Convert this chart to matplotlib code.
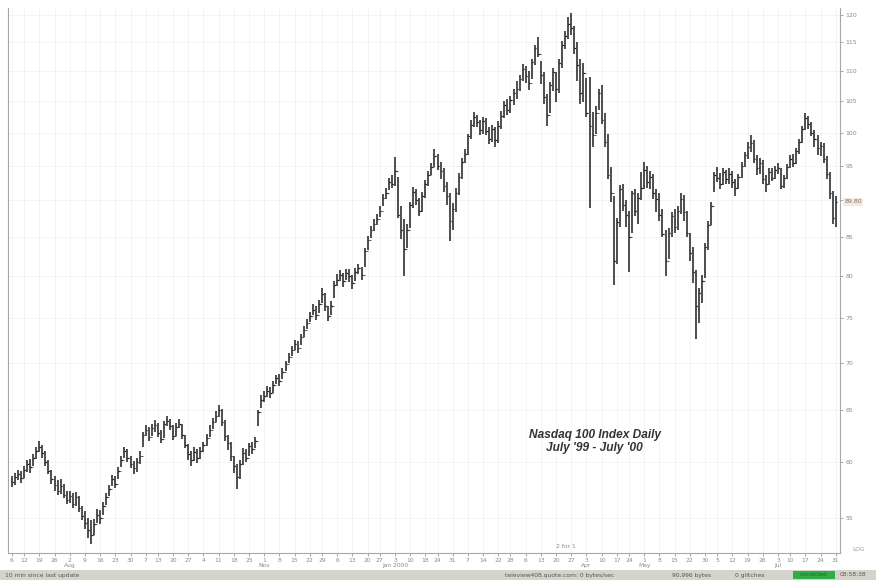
import numpy as np
import pandas as pd
import matplotlib
matplotlib.use("Agg")
import matplotlib.pyplot as plt
from matplotlib.transforms import blended_transform_factory

# ---------------- data (QQQ-scale, split adjusted) ----------------
holidays = ["1999-07-05", "1999-09-06", "1999-11-25", "1999-12-24", "2000-01-17",
            "2000-02-21", "2000-04-21", "2000-05-29", "2000-07-04"]
start_date = "1999-07-06"
end_date = "2000-07-31"

close = [
    # Jul 99
    58.2, 58.6, 58.9, 58.5, 59.3, 59.8, 59.5, 60.4, 61.0, 61.4, 60.8, 60.0, 59.2, 58.4, 57.9, 57.4, 57.8, 57.0, 56.6,
    # Aug
    56.9, 56.2, 56.8, 55.9, 55.2, 54.6, 54.0, 53.6, 54.5, 55.3, 55.0, 56.0, 56.8, 57.5, 58.4, 58.0, 59.2, 60.2, 61.0, 60.4, 59.8, 59.4,
    # Sep
    60.0, 60.6, 62.6, 63.0, 62.4, 63.2, 63.5, 62.8, 62.2, 63.6, 63.9, 63.4, 62.5, 63.3, 63.6, 62.6, 61.6, 60.7, 60.2, 60.9, 60.4,
    # Oct
    61.0, 61.6, 62.3, 63.0, 63.8, 64.4, 65.0, 63.8, 62.5, 61.8, 60.6, 59.6, 58.6, 59.8, 60.8, 60.4, 61.5, 61.2, 62.0, 64.8, 66.0,
    # Nov
    66.5, 67.0, 66.8, 67.6, 68.3, 68.0, 69.0, 69.8, 70.6, 71.4, 72.0, 71.6, 72.8, 73.6, 74.4, 75.2, 76.0, 75.4, 76.6, 77.8, 76.4,
    # Dec
    75.2, 76.4, 79.0, 79.6, 80.2, 79.4, 80.4, 80.0, 79.2, 80.6, 81.0, 80.2, 83.2, 84.6, 86.0, 86.8, 87.4, 88.6, 90.4, 91.0, 92.6, 92.4,
    # Jan 00
    94.2, 88.0, 86.0, 83.5, 86.0, 89.4, 91.2, 90.0, 88.6, 90.6, 92.4, 93.6, 94.8, 96.4, 95.0, 94.2, 92.0, 90.6, 87.2, 88.8,
    # Feb
    91.0, 93.4, 95.6, 96.8, 99.5, 101.2, 102.4, 101.6, 100.4, 101.8, 100.2, 99.0, 100.6, 98.8, 101.0, 102.6, 104.4, 103.6, 105.2, 106.4,
    # Mar
    107.0, 108.6, 110.4, 109.2, 108.0, 111.5, 114.0, 113.0, 109.4, 105.6, 102.8, 107.6, 109.8, 107.0, 111.4, 114.6, 116.2, 118.4, 117.6, 114.0, 111.0, 106.4, 109.6,
    # Apr
    103.0, 101.0, 99.6, 103.0, 106.4, 102.0, 98.6, 93.6, 91.0, 82.0, 87.0, 91.6, 89.4, 88.0, 85.0, 91.0, 88.6, 90.4, 91.8,
    # May
    94.4, 92.6, 93.4, 91.0, 90.2, 88.0, 85.4, 82.0, 85.6, 87.8, 86.4, 88.6, 90.2, 88.4, 85.6, 83.0, 80.6, 76.4, 78.0, 79.4, 83.8, 86.6,
    # Jun
    89.2, 93.6, 93.2, 92.4, 94.0, 93.0, 93.8, 92.6, 91.8, 93.4, 95.0, 96.6, 97.8, 98.4, 96.0, 94.6, 95.4, 93.0, 92.4, 94.0, 93.2, 94.4,
    # Jul
    94.6, 92.0, 93.2, 94.8, 96.0, 95.4, 97.2, 98.6, 100.6, 102.2, 101.4, 100.0, 99.0, 97.6, 98.0, 96.0, 93.8, 91.0, 87.6, 89.8,
]
high = [
    58.7, 59.0, 59.3, 59.2, 59.6, 60.2, 60.3, 60.7, 61.4, 62.0, 61.6, 61.0, 60.2, 59.3, 58.7, 58.3, 58.4, 58.0, 57.4,
    57.4, 57.2, 57.3, 56.9, 56.0, 55.6, 55.0, 54.8, 54.9, 55.8, 55.7, 56.4, 57.2, 57.9, 58.8, 58.7, 59.5, 60.6, 61.4, 61.2, 60.6, 60.1,
    60.4, 61.0, 62.9, 63.5, 63.3, 63.6, 64.0, 63.7, 63.0, 63.9, 64.4, 64.1, 63.5, 63.7, 64.1, 63.6, 62.6, 61.7, 61.0, 61.4, 61.2,
    61.4, 61.9, 62.7, 63.5, 64.2, 64.9, 65.5, 65.1, 64.0, 62.6, 61.9, 60.6, 59.8, 60.2, 61.3, 61.2, 61.8, 61.9, 62.4, 65.0, 66.6,
    67.0, 67.5, 67.4, 68.0, 68.7, 68.8, 69.4, 70.2, 71.0, 71.8, 72.5, 72.4, 73.2, 74.1, 74.9, 75.7, 76.6, 76.4, 77.1, 78.6, 78.0,
    76.4, 77.0, 79.4, 80.3, 80.8, 80.4, 80.9, 80.9, 80.2, 81.0, 81.6, 81.2, 83.6, 85.2, 86.5, 87.5, 88.1, 89.3, 90.9, 91.7, 93.2, 93.6,
    96.3, 93.4, 89.2, 87.4, 86.8, 89.8, 91.9, 91.6, 90.4, 91.2, 92.9, 94.2, 95.4, 97.5, 96.8, 95.6, 94.6, 92.6, 91.0, 89.6,
    91.8, 93.9, 96.2, 97.5, 99.8, 101.9, 103.2, 102.8, 101.9, 102.5, 102.2, 100.8, 101.2, 100.9, 101.8, 103.4, 105.0, 105.3, 105.9, 107.0,
    108.4, 109.4, 111.2, 110.8, 110.0, 112.0, 114.6, 116.0, 111.8, 109.8, 106.2, 108.2, 110.6, 109.8, 112.0, 115.2, 117.0, 119.6, 120.4, 118.0, 115.0, 112.0, 111.4,
    108.8, 109.0, 103.2, 104.2, 107.0, 107.6, 103.0, 99.8, 94.8, 90.6, 87.6, 92.2, 92.4, 90.0, 88.6, 91.4, 91.6, 91.0, 94.0,
    95.6, 95.0, 94.2, 93.8, 91.6, 91.0, 88.8, 86.0, 86.2, 88.4, 88.8, 89.2, 91.0, 90.8, 88.6, 85.6, 83.8, 80.8, 78.6, 80.2, 84.2, 87.2,
    89.8, 94.0, 94.8, 93.9, 94.6, 94.4, 94.6, 94.2, 93.0, 93.8, 95.6, 97.0, 98.6, 99.6, 98.8, 96.6, 96.2, 95.8, 93.6, 94.6, 94.6, 95.0,
    95.4, 94.6, 93.6, 95.2, 96.6, 96.8, 97.6, 99.0, 101.0, 103.0, 102.6, 101.6, 100.4, 99.6, 98.6, 98.4, 96.4, 94.0, 91.4, 90.6,
]
low = [
    57.7, 57.9, 58.3, 58.1, 58.5, 59.1, 59.0, 59.6, 60.3, 60.9, 60.4, 59.6, 58.9, 58.0, 57.4, 57.0, 57.1, 56.7, 56.2,
    56.3, 55.9, 56.0, 55.5, 54.8, 54.1, 53.3, 52.8, 53.6, 54.6, 54.5, 55.3, 56.1, 56.9, 57.8, 57.6, 58.4, 59.5, 60.4, 60.0, 59.4, 58.9,
    59.1, 59.8, 61.4, 62.5, 62.0, 62.5, 62.9, 62.4, 61.8, 62.3, 63.4, 63.0, 62.1, 62.5, 63.2, 62.2, 61.3, 60.2, 59.6, 60.1, 59.9,
    60.3, 60.9, 61.5, 62.4, 63.1, 63.8, 64.3, 63.4, 62.0, 61.1, 60.1, 59.0, 57.5, 58.4, 59.7, 60.0, 60.6, 60.7, 61.3, 63.4, 65.2,
    65.8, 66.4, 66.3, 66.8, 67.7, 67.5, 68.2, 69.1, 69.9, 70.7, 71.4, 71.0, 71.9, 72.8, 73.7, 74.5, 75.3, 74.8, 75.6, 76.8, 75.8,
    74.6, 75.3, 77.4, 78.8, 79.4, 78.7, 79.5, 79.3, 78.5, 79.4, 80.3, 79.6, 81.2, 83.4, 84.9, 85.9, 86.7, 87.7, 89.3, 90.2, 91.5, 91.7,
    92.0, 87.6, 84.8, 80.0, 83.6, 86.2, 88.9, 89.4, 87.9, 88.4, 90.4, 92.0, 93.6, 94.8, 94.4, 93.0, 91.2, 89.4, 84.5, 86.0,
    88.4, 90.8, 93.0, 95.4, 96.6, 99.0, 100.9, 100.8, 99.6, 99.8, 99.6, 98.2, 98.6, 97.8, 98.4, 100.6, 102.2, 102.8, 103.0, 104.4,
    105.4, 106.6, 108.4, 108.0, 106.8, 108.6, 111.0, 112.4, 107.8, 104.6, 101.0, 103.0, 106.6, 104.8, 106.4, 110.6, 113.8, 115.6, 116.4, 113.0, 108.4, 104.6, 104.8,
    102.4, 89.0, 97.8, 99.8, 103.6, 101.4, 97.8, 93.0, 89.8, 79.0, 81.6, 86.4, 88.6, 86.4, 80.5, 85.6, 87.8, 86.8, 90.0,
    91.6, 91.8, 91.6, 90.2, 88.4, 87.2, 85.0, 80.0, 82.2, 85.0, 85.6, 86.0, 88.2, 87.2, 85.0, 82.0, 79.2, 72.6, 74.4, 76.8, 79.8, 83.4,
    86.6, 91.2, 92.6, 91.6, 92.2, 92.4, 92.4, 91.8, 90.6, 91.6, 93.2, 94.8, 96.0, 97.0, 95.4, 93.6, 93.8, 92.4, 91.2, 92.2, 92.8, 93.0,
    93.8, 91.6, 91.8, 93.0, 94.6, 94.8, 95.2, 96.8, 98.4, 100.4, 100.6, 99.4, 97.8, 96.6, 96.4, 95.4, 93.0, 90.2, 86.8, 86.4,
]
price_ticks = [55, 60, 65, 70, 75, 80, 85, 90, 95, 100, 105, 110, 115, 120]
month_names = {8: "Aug", 9: "Sep", 10: "Oct", 11: "Nov", 12: "Dec", 1: "Jan 2000",
               2: "Feb", 3: "Mar", 4: "Apr", 5: "May", 6: "Jun", 7: "Jul"}
title_lines = ["Nasdaq 100 Index Daily", "July '99 - July '00"]
split_date = "2000-03-20"
split_text = "2 for 1"
status_left = "10 min since last update"
status_mid = "teleview408.quote.com: 0 bytes/sec"
status_bytes = "90,996 bytes"
status_glitch = "0 glitches"
status_time = "08:58:38"

# ---------------- calendar ----------------
days = pd.bdate_range(start_date, end_date)
days = days[~days.isin(pd.to_datetime(holidays))]
n = len(days)
assert n == len(close) == len(high) == len(low)
xi = np.arange(n)

# weekly ticks: first trading day of each week
week_key = days.to_period("W")
first_of_week = [i for i in range(n) if i == 0 or week_key[i] != week_key[i - 1]]
labels = []
for i in first_of_week:
    d = days[i]
    lab = str(d.day)
    prev_month = days[i - 1].month if i > 0 else d.month
    if i > 0 and d.month != prev_month:
        lab += "\n" + month_names[d.month]
    labels.append(lab)

# ---------------- figure ----------------
W, H = 876, 580
fig = plt.figure(figsize=(W / 100, H / 100), dpi=100)
fig.patch.set_facecolor("white")
ax = fig.add_axes([8 / W, 1 - 553 / H, (840 - 8) / W, (553 - 8) / H])
ax.set_facecolor("white")

ax.set_yscale("log")
ax.set_ylim(52.1, 121.3)
ax.set_xlim(-1.3, 272.4)

# faint grid
for i in first_of_week:
    ax.axvline(i, color="#f3f3f3", lw=0.6, zorder=0)
for p in price_ticks:
    ax.axhline(p, color="#f3f3f3", lw=0.6, zorder=0)

bar_col = "#1e1e1e"
ax.vlines(xi, low, high, color=bar_col, lw=1.1, zorder=3)
ax.hlines(close, xi, xi + 0.55, color=bar_col, lw=0.9, zorder=3)
ax.hlines(close[:-1], xi[1:] - 0.55, xi[1:], color="#555555", lw=0.7, zorder=3)

# axes styling
for s in ["top"]:
    ax.spines[s].set_visible(False)
for s in ["left", "right", "bottom"]:
    ax.spines[s].set_color("#a8a8a8")
    ax.spines[s].set_linewidth(0.8)

ax.yaxis.tick_right()
ax.set_yticks(price_ticks)
ax.set_yticklabels([("" if p == 90 else str(p)) for p in price_ticks])
ax.yaxis.set_minor_locator(matplotlib.ticker.NullLocator())
ax.yaxis.set_minor_formatter(matplotlib.ticker.NullFormatter())
ax.tick_params(axis="y", which="major", length=2, width=0.6, color="#999999",
               labelsize=4.5, labelcolor="#8a8a8a", pad=2)

ax.set_xticks(first_of_week)
ax.set_xticklabels(labels, linespacing=1.0)
ax.tick_params(axis="x", length=2, width=0.6, color="#999999", labelsize=4.3,
               labelcolor="#8a8a8a", pad=1.5)

# current price tag
last = close[-1]
ax.annotate(f"{last:.2f}", xy=(1.0, last), xycoords=("axes fraction", "data"),
            xytext=(3, 0), textcoords="offset points", va="center", ha="left",
            fontsize=4.5, color="#777777",
            bbox=dict(boxstyle="square,pad=0.25", fc="#f6e9df", ec="none"))

# split marker
trans = blended_transform_factory(ax.transData, ax.transAxes)
split_idx = int(np.where(days == pd.Timestamp(split_date))[0][0])
ax.text(split_idx, 0.008, split_text, transform=trans, fontsize=4.3, color="#8a8a8a",
        ha="left", va="bottom")

# title text
ax.text(0.705, 0.205, title_lines[0] + "\n" + title_lines[1], transform=ax.transAxes,
        ha="center", va="center", fontsize=8.6, fontweight="bold", fontstyle="italic",
        color="#333333", family="Liberation Sans", linespacing=1.15)

# LOG label
fig.text(852 / W, 1 - 552 / H, "LOG", fontsize=4.3, color="#999999", ha="left", va="bottom")

# status bar
sb = fig.add_axes([0, 0, 1, 10 / H])
sb.set_xlim(0, W)
sb.set_ylim(0, 10)
sb.axis("off")
sb.add_patch(plt.Rectangle((0, 0), W, 10, fc="#d6d3cc", ec="none"))
sb.add_patch(plt.Rectangle((793, 1), 42, 8, fc="#2fae48", ec="none"))
sb.text(5, 5, status_left, fontsize=4.3, color="#555555", va="center", ha="left")
sb.text(505, 5, status_mid, fontsize=4.3, color="#555555", va="center", ha="left")
sb.text(672, 5, status_bytes, fontsize=4.3, color="#555555", va="center", ha="left")
sb.text(735, 5, status_glitch, fontsize=4.3, color="#555555", va="center", ha="left")
sb.text(814, 5, "connected", fontsize=3.8, color="#1d6e2c", va="center", ha="center")
sb.text(840, 5, status_time, fontsize=4.3, color="#555555", va="center", ha="left")

fig.savefig("out.png", dpi=100)
